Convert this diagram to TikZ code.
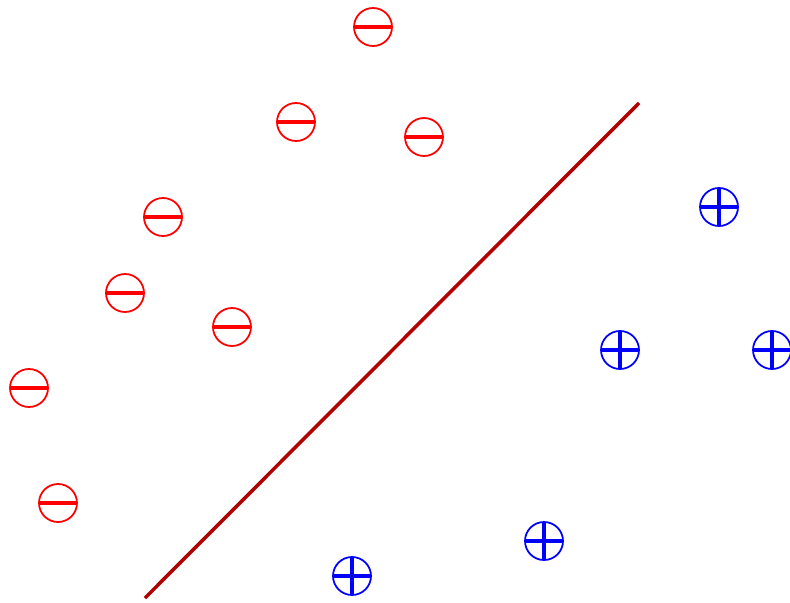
\documentclass[tikz,border=0pt]{standalone}
\usepackage{tikz}
\tikzset{
  fx/.style={x=0.4mm, y=-0.4mm},
  s pt/.style={circle, inner sep=0pt, minimum size=15.2mm, line width=2pt},
  s neg/.style={s pt, draw=red, path picture={
      \draw[red, line width=4.5pt] (path picture bounding box.west) -- (path picture bounding box.east);}},
  s pos/.style={s pt, draw=blue, path picture={
      \draw[blue, line width=4.5pt] (path picture bounding box.west) -- (path picture bounding box.east);
      \draw[blue, line width=4.5pt] (path picture bounding box.north) -- (path picture bounding box.south);}},
  s sep/.style={draw=red!70!black, line width=4pt},
}
\begin{document}
\begin{tikzpicture}[fx]
\useasboundingbox (0,0) rectangle (790,602);
% negative class
\node[s neg] (n1) at (373,27) {};
\node[s neg] (n2) at (296,122) {};
\node[s neg] (n3) at (424,137) {};
\node[s neg] (n4) at (163,217) {};
\node[s neg] (n5) at (125,293) {};
\node[s neg] (n6) at (232,327) {};
\node[s neg] (n7) at (29,388) {};
\node[s neg] (n8) at (58,503) {};
% positive class
\node[s pos] (p1) at (719,207) {};
\node[s pos] (p2) at (620,350) {};
\node[s pos] (p3) at (772,350) {};
\node[s pos] (p4) at (544,541) {};
\node[s pos] (p5) at (352,576) {};
% separating line
\coordinate (lo) at (145,598);
\coordinate (hi) at (639,103);
\draw[s sep] (lo) -- (hi);
\end{tikzpicture}
\end{document}
